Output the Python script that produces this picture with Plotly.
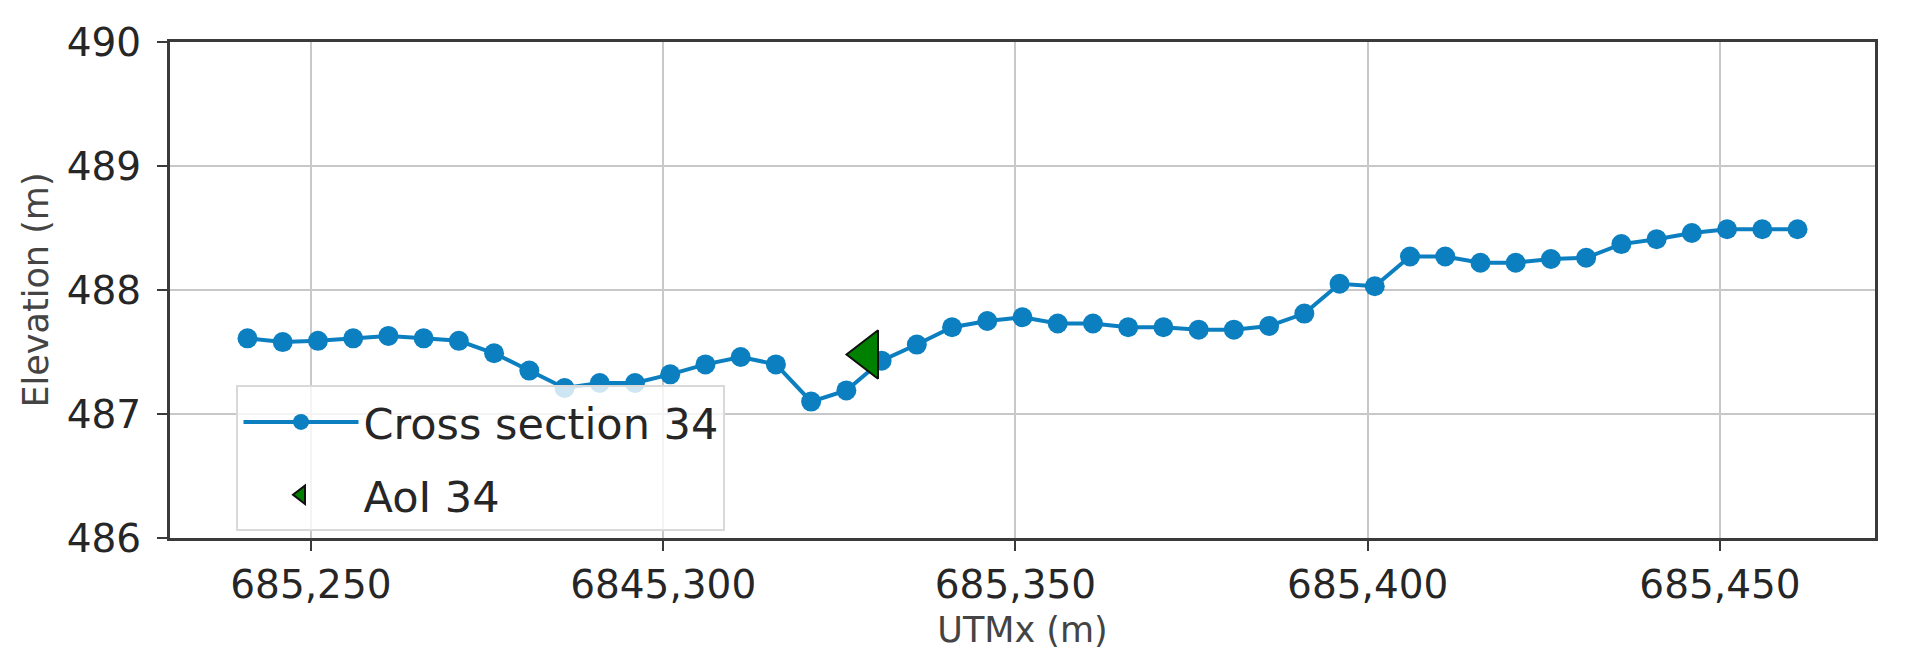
import plotly.graph_objects as go

# cross section 34 profile (UTM easting, m / elevation, m)
utm_x = [685241, 685246, 685251, 685256, 685261, 685266, 685271, 685276, 685281,
         685286, 685291, 685296, 685301, 685306, 685311, 685316, 685321, 685326,
         685331, 685336, 685341, 685346, 685351, 685356, 685361, 685366, 685371,
         685376, 685381, 685386, 685391, 685396, 685401, 685406, 685411, 685416,
         685421, 685426, 685431, 685436, 685441, 685446, 685451, 685456, 685461]
elevation = [487.61, 487.58, 487.59, 487.61, 487.63, 487.61, 487.59, 487.49, 487.35,
             487.21, 487.25, 487.25, 487.32, 487.40, 487.46, 487.40, 487.10, 487.19,
             487.43, 487.56, 487.70, 487.75, 487.78, 487.73, 487.73, 487.70, 487.70,
             487.68, 487.68, 487.71, 487.81, 488.05, 488.03, 488.27, 488.27, 488.22,
             488.22, 488.25, 488.26, 488.37, 488.41, 488.46, 488.49, 488.49, 488.49]

# area of interest
aoi_x = [685329]
aoi_y = [487.48]

x_tickvals = [685250, 685300, 685350, 685400, 685450]
x_ticktext = ["685,250", "6845,300", "685,350", "685,400", "685,450"]
y_tickvals = [486, 487, 488, 489, 490]

FONT = "DejaVu Sans"

fig = go.Figure()

fig.add_trace(go.Scatter(
    x=utm_x,
    y=elevation,
    mode="lines+markers",
    name="Cross section 34",
    legendgroup="cs",
    line=dict(color="#0b7fc0", width=4),
    marker=dict(color="#0b7fc0", size=20),
))

fig.add_trace(go.Scatter(
    x=aoi_x,
    y=aoi_y,
    mode="markers",
    name="AoI 34",
    legendgroup="aoi",
    marker=dict(symbol="triangle-left", size=42, color="#008000",
                line=dict(color="#111111", width=2)),
))

axis_common = dict(
    showline=True,
    linecolor="#3a3a3a",
    linewidth=3,
    mirror=True,
    showgrid=True,
    gridcolor="#c8c8c8",
    gridwidth=2,
    ticks="outside",
    ticklen=10,
    tickwidth=2,
    tickcolor="#3a3a3a",
    zeroline=False,
    tickfont=dict(family=FONT, size=39, color="#262626"),
)

title_font = dict(family=FONT, size=35, color="#444444")

# page body adds an 8px offset, so the figure is a bit smaller than the window
fig.update_layout(
    width=1891,
    height=656,
    autosize=False,
    margin=dict(l=162, r=24, t=24, b=126, pad=0),
    paper_bgcolor="white",
    plot_bgcolor="white",
    font=dict(family=FONT),
    xaxis=dict(
        range=[685230, 685472],
        tickvals=x_tickvals,
        ticktext=x_ticktext,
        title=dict(text="UTMx (m)", font=title_font, standoff=12),
        **axis_common,
    ),
    yaxis=dict(
        range=[486, 490],
        tickvals=y_tickvals,
        ticklabelstandoff=8,
        title=dict(text="Elevation (m)", font=title_font, standoff=8),
        **axis_common,
    ),
    legend=dict(
        x=0.039,
        y=0.3075,
        xanchor="left",
        yanchor="top",
        bgcolor="rgba(255,255,255,0.8)",
        bordercolor="#d9d9d9",
        borderwidth=2,
        font=dict(family=FONT, size=43, color="#262626"),
        itemwidth=115,
        traceorder="grouped",
        tracegroupgap=14,
    ),
    showlegend=True,
)

fig.write_html("out.html")
